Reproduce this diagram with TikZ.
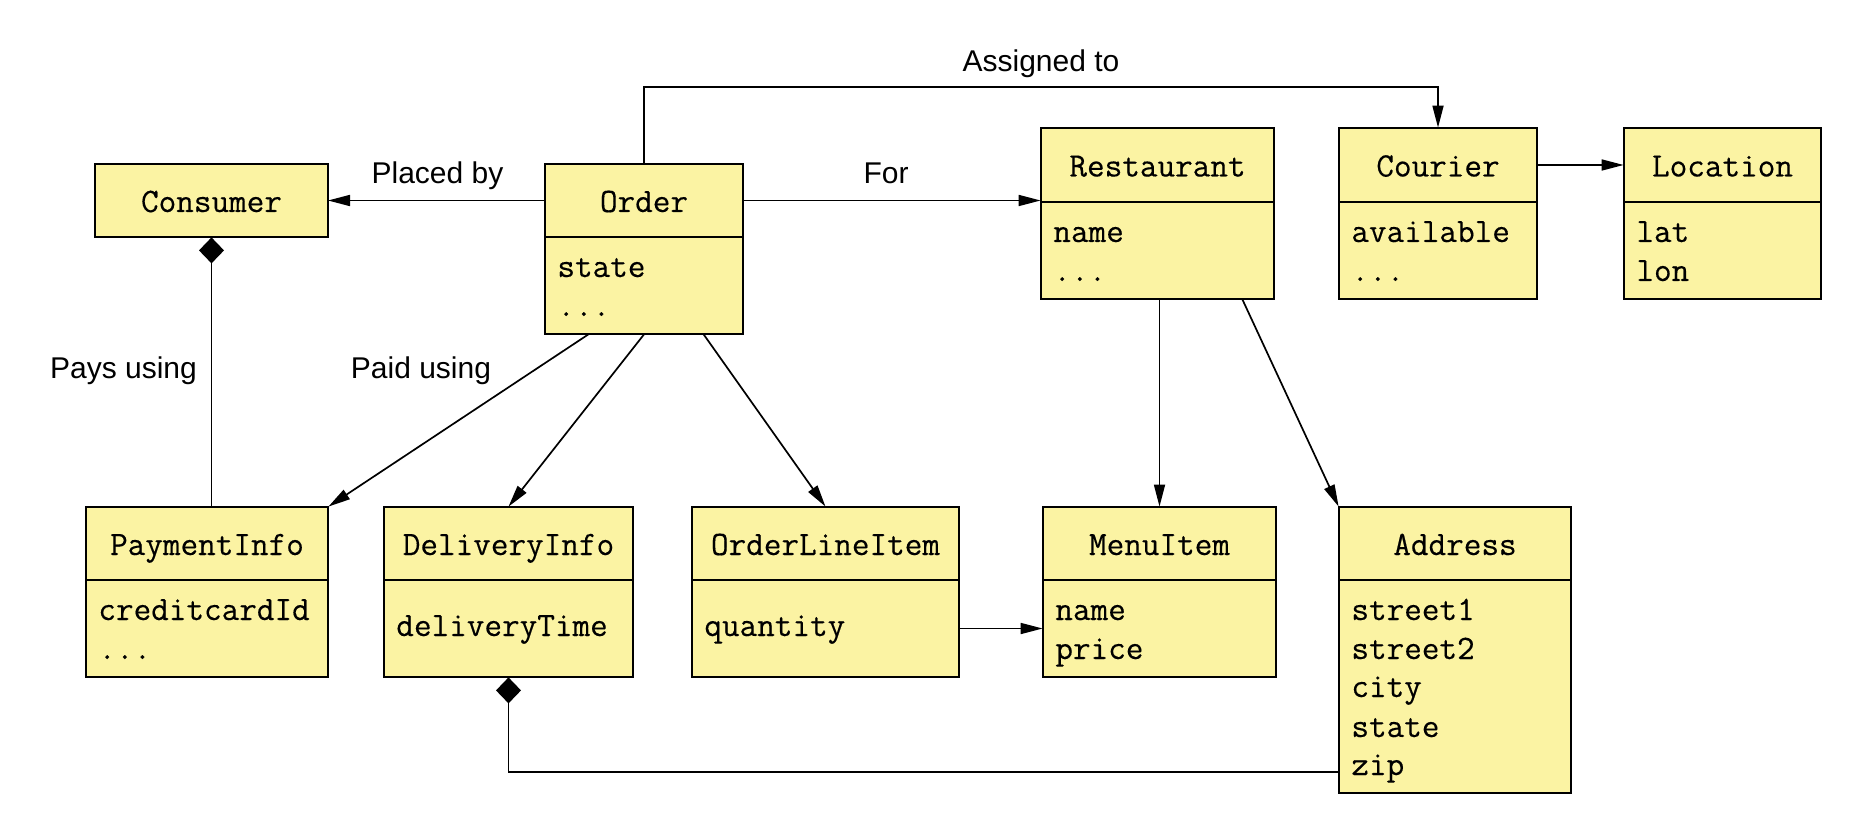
\documentclass[tikz,border=0pt]{standalone}
\usepackage{fontspec}
\setmainfont{Liberation Sans}
\newfontfamily\umlmono[FakeBold=0.35]{Latin Modern Mono}
\usetikzlibrary{arrows.meta,fit,calc}
\definecolor{umlfill}{RGB}{251,243,163}
\newcommand\umlclass[6]{%
  \node[boxpart, fit={(#2,#3) (#4,#5)}] (#1h) {};
  \node[boxpart, fit={(#2,#5) (#4,#6)}] (#1b) {};
  \node[inner sep=0pt, fit={(#2,#3) (#4,#6)}] (#1) {};
}
\newcommand\umlhead[5]{%
  \node[boxpart, fit={(#2,#3) (#4,#5)}] (#1h) {};
  \node[inner sep=0pt, fit={(#2,#3) (#4,#5)}] (#1) {};
}
\tikzset{
  boxpart/.style={draw=black, fill=umlfill, line width=1pt, inner sep=0pt, outer sep=0pt},
  ttl/.style={anchor=base, inner sep=0pt, font=\umlmono\fontsize{17.1pt}{19pt}\selectfont},
  attr/.style={anchor=base west, inner sep=0pt, font=\umlmono\fontsize{17.1pt}{19pt}\selectfont},
  lbl/.style={anchor=base, inner sep=0pt, font=\fontsize{15pt}{18pt}\selectfont},
  arr/.style={line width=0.85pt, -{Triangle[length=11pt,width=5.5pt]}},
  comp/.style={line width=0.85pt, -{Diamond[length=13pt,width=12.5pt]}},
}
\begin{document}
\begin{tikzpicture}[x=0.5pt,y=-0.5pt]
\useasboundingbox (0,0) rectangle (1868,828);

% classes
\umlhead{cons}{95}{164}{328}{237}
\umlclass{order}{545}{164}{743}{237}{334}
\umlclass{rest}{1041}{128}{1274}{202}{299}
\umlclass{cour}{1339}{128}{1537}{202}{299}
\umlclass{loc}{1624}{128}{1821}{202}{299}
\umlclass{paym}{86}{507}{328}{580}{677}
\umlclass{deliv}{384}{507}{633}{580}{677}
\umlclass{oli}{692}{507}{959}{580}{677}
\umlclass{menu}{1043}{507}{1276}{580}{677}
\umlclass{addr}{1339}{507}{1571}{580}{793}

% titles
\node[ttl] (consT) at (211.5,212) {Consumer};
\node[ttl] (orderT) at (644,212) {Order};
\node[ttl] (restT) at (1157.5,176.5) {Restaurant};
\node[ttl] (courT) at (1438,176.5) {Courier};
\node[ttl] (locT) at (1722.5,176.5) {Location};
\node[ttl] (paymT) at (207,555) {PaymentInfo};
\node[ttl] (delivT) at (508.5,555) {DeliveryInfo};
\node[ttl] (oliT) at (825.5,555) {OrderLineItem};
\node[ttl] (menuT) at (1159.5,555) {MenuItem};
\node[ttl] (addrT) at (1455,555) {Address};

% attributes
\node[attr] (orderA1) at (557,277) {state};
\node[attr] (orderA2) at (557,316) {...};
\node[attr] (restA1) at (1053,242) {name};
\node[attr] (restA2) at (1053,281) {...};
\node[attr] (courA1) at (1351,242) {available};
\node[attr] (courA2) at (1351,281) {...};
\node[attr] (locA1) at (1636,242) {lat};
\node[attr] (locA2) at (1636,281) {lon};
\node[attr] (paymA1) at (98,620) {creditcardId};
\node[attr] (paymA2) at (98,659) {...};
\node[attr] (delivA1) at (396,636) {deliveryTime};
\node[attr] (oliA1) at (704,636) {quantity};
\node[attr] (menuA1) at (1055,620) {name};
\node[attr] (menuA2) at (1055,659) {price};
\node[attr] (addrA1) at (1351,620) {street1};
\node[attr] (addrA2) at (1351,659) {street2};
\node[attr] (addrA3) at (1351,697) {city};
\node[attr] (addrA4) at (1351,737) {state};
\node[attr] (addrA5) at (1351,775) {zip};

% labels
\node[lbl] (lPlaced) at (437.5,184) {Placed by};
\node[lbl] (lFor) at (886,184) {For};
\node[lbl] (lAssigned) at (1041,71.5) {Assigned to};
\node[lbl] (lPays) at (123.5,379) {Pays using};
\node[lbl] (lPaid) at (421,379) {Paid using};

% connectors
\coordinate (assignY) at (0,87);
\coordinate (zipY) at (0,772);
\draw[arr] (orderh.west) -- (orderh.west -| consh.east);
\draw[arr] (orderh.east) -- (orderh.east -| rest.west);
\draw[arr] (order.north) -- (order.north |- assignY) -| (cour.north);
\draw[arr] (courh.east) -- (courh.east -| loc.west);
\draw[arr] ($(order.south west)!0.22!(order.south east)$) -- (paym.north east);
\draw[arr] (order.south) -- (deliv.north);
\draw[arr] ($(order.south west)!0.8!(order.south east)$) -- (oli.north);
\draw[arr] (menu.north |- rest.south) -- (menu.north);
\draw[arr] ($(rest.south west)!0.863!(rest.south east)$) -- (addr.north west);
\draw[arr] (olib.east) -- (olib.east -| menu.west);
\draw[comp] (paym.north -| cons.south) -- (cons.south);
\draw[comp] (addr.west |- zipY) -| (deliv.south);
\end{tikzpicture}
\end{document}
